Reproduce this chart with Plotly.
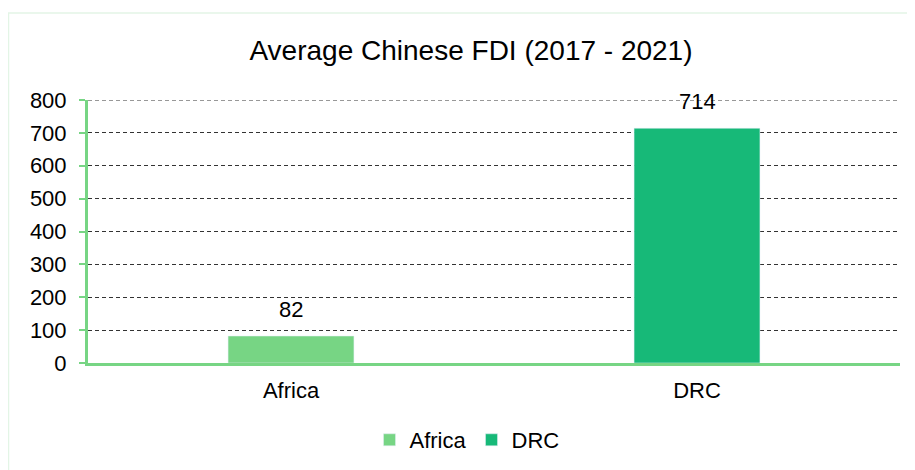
import plotly.graph_objects as go

categories = ["Africa", "DRC"]
values = [82, 714]
colors = ["#77d584", "#17b978"]
y_ticks = [0, 100, 200, 300, 400, 500, 600, 700, 800]

FONT = "Liberation Sans, Arial, sans-serif"
GRID_DASH = "4px,3px"

# plot area: 812 x 263 px
L, R, T, B = 80, 23, 92, 115
PW, PH = 915 - L - R, 470 - T - B

fig = go.Figure()
for cat, val, col in zip(categories, values, colors):
    fig.add_trace(go.Bar(
        x=[cat], y=[val], name=cat, marker_color=col,
        width=0.31, hoverinfo="skip",
    ))
    fig.add_annotation(
        x=cat, y=val, text=str(val), showarrow=False,
        yanchor="bottom", yshift=12,
        font=dict(size=22, color="#000000", family=FONT),
    )

# top gridline (plotly drops the one on the plot edge)
fig.add_shape(
    type="line", xref="paper", yref="y",
    x0=0, x1=1, y0=y_ticks[-1], y1=y_ticks[-1],
    line=dict(color="#333333", width=1, dash=GRID_DASH), layer="below",
)

# faint outer frame around the chart
fig.add_shape(
    type="rect", xref="paper", yref="paper",
    x0=(0.5 - L) / PW, x1=1.2, y0=-0.6, y1=(PH + T - 5) / PH,
    line=dict(color="#e3f5e6", width=1.5), layer="below",
)

fig.update_layout(
    width=915, height=470,
    margin=dict(l=L, r=R, t=T, b=B),
    paper_bgcolor="white", plot_bgcolor="white",
    barmode="overlay",
    font=dict(family=FONT, size=22, color="#000000"),
    title=dict(
        text="Average Chinese FDI (2017 - 2021)",
        x=(463 - L) / PW, xref="paper", xanchor="center",
        y=1 - 42 / 470, yanchor="middle",
        font=dict(size=28, family=FONT, color="#000000"),
    ),
    xaxis=dict(
        showline=True, linecolor="#77d584", linewidth=3,
        showgrid=False, ticks="", tickfont=dict(size=22),
        ticklabelstandoff=6,
    ),
    yaxis=dict(
        range=[0, 800], tickvals=y_ticks,
        showline=True, linecolor="#77d584", linewidth=3,
        ticks="outside", ticklen=6, tickcolor="#77d584", tickwidth=2,
        showgrid=True, gridcolor="#333333", gridwidth=1, griddash=GRID_DASH,
        zeroline=False, tickfont=dict(size=22), ticklabelstandoff=8,
    ),
    legend=dict(
        orientation="h", x=(459 - L) / PW, xanchor="center",
        y=(PH - (432 - T)) / PH, yanchor="middle",
        font=dict(size=22), itemwidth=30,
    ),
)

fig.write_html("out.html")
